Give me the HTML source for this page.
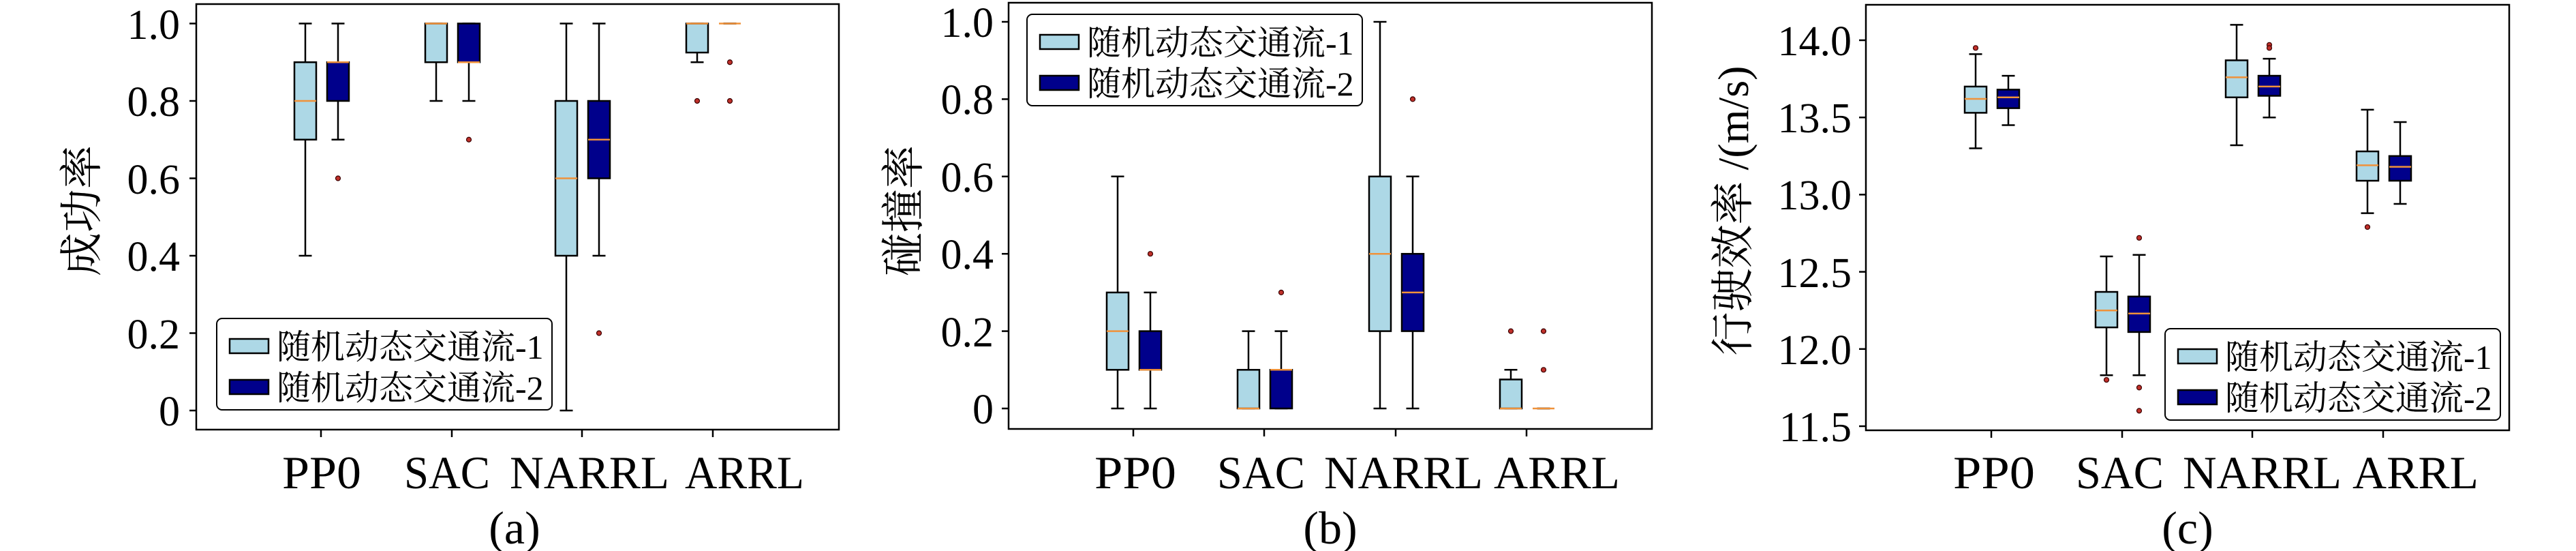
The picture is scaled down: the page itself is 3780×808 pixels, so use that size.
<!DOCTYPE html>
<html><head><meta charset="utf-8"><style>
html,body{margin:0;padding:0;background:#fff;}
svg{display:block;}
text{font-family:"Liberation Serif","Noto Serif CJK SC","Noto Sans CJK SC",serif;fill:#000;}
.tk{font-size:62px;}
.xl{font-size:68px;}
.yl{font-size:64px;}
.lg{font-size:50px;}
</style></head><body>
<svg id="s" width="3780" height="808" viewBox="0 0 3780 808" xmlns="http://www.w3.org/2000/svg">
<g id="shapes"></g>
<!-- Panel a -->
<rect x="288" y="6" width="943" height="624" fill="none" stroke="#000" stroke-width="2.5"/>
<g class="tk" text-anchor="end">
<text x="264" y="57">1.0</text><text x="264" y="170">0.8</text><text x="264" y="284">0.6</text>
<text x="264" y="397">0.4</text><text x="264" y="511">0.2</text><text x="264" y="624">0</text></g>
<g class="xl">
<text x="414" y="716" textLength="116" lengthAdjust="spacingAndGlyphs">PP0</text>
<text x="593" y="716" textLength="126" lengthAdjust="spacingAndGlyphs">SAC</text>
<text x="748" y="716" textLength="234" lengthAdjust="spacingAndGlyphs">NARRL</text>
<text x="1005" y="716" textLength="175" lengthAdjust="spacingAndGlyphs">ARRL</text></g>
<text class="xl" x="755" y="797" text-anchor="middle">(a)</text>
<text class="yl" transform="translate(142,309) rotate(-90)" text-anchor="middle">成功率</text>
<!-- Panel b -->
<rect x="1480" y="4" width="944" height="625" fill="none" stroke="#000" stroke-width="2.5"/>
<g class="tk" text-anchor="end">
<text x="1458" y="54">1.0</text><text x="1458" y="167">0.8</text><text x="1458" y="281">0.6</text>
<text x="1458" y="394">0.4</text><text x="1458" y="508">0.2</text><text x="1458" y="621">0</text></g>
<g class="xl">
<text x="1606" y="716" textLength="120" lengthAdjust="spacingAndGlyphs">PP0</text>
<text x="1786" y="716" textLength="129" lengthAdjust="spacingAndGlyphs">SAC</text>
<text x="1943" y="716" textLength="233" lengthAdjust="spacingAndGlyphs">NARRL</text>
<text x="2192" y="716" textLength="185" lengthAdjust="spacingAndGlyphs">ARRL</text></g>
<text class="xl" x="1952" y="797" text-anchor="middle">(b)</text>
<text class="yl" transform="translate(1348,309) rotate(-90)" text-anchor="middle">碰撞率</text>
<!-- Panel c -->
<rect x="2738" y="7" width="944" height="624" fill="none" stroke="#000" stroke-width="2.5"/>
<g class="tk" text-anchor="end">
<text x="2717" y="81">14.0</text><text x="2717" y="194">13.5</text><text x="2717" y="307">13.0</text>
<text x="2717" y="421">12.5</text><text x="2717" y="534">12.0</text><text x="2717" y="647">11.5</text></g>
<g class="xl">
<text x="2866" y="716" textLength="120" lengthAdjust="spacingAndGlyphs">PP0</text>
<text x="3046" y="716" textLength="129" lengthAdjust="spacingAndGlyphs">SAC</text>
<text x="3203" y="716" textLength="233" lengthAdjust="spacingAndGlyphs">NARRL</text>
<text x="3452" y="716" textLength="185" lengthAdjust="spacingAndGlyphs">ARRL</text></g>
<text class="xl" x="3210" y="797" text-anchor="middle">(c)</text>
<text class="yl" transform="translate(2565,309) rotate(-90)" text-anchor="middle">行驶效率 /(m/s)</text>
<!-- Legends -->
<g>
<rect x="318" y="467" width="492" height="134" rx="8" fill="#fff" stroke="#000" stroke-width="2"/>
<rect x="337" y="497" width="57" height="21" fill="#add8e6" stroke="#000" stroke-width="2.5"/>
<rect x="337" y="557" width="57" height="21" fill="#00008b" stroke="#000" stroke-width="2.5"/>
<text class="lg" x="406" y="526">随机动态交通流-1</text>
<text class="lg" x="406" y="586">随机动态交通流-2</text>
</g>
<g>
<rect x="1507" y="21" width="492" height="134" rx="8" fill="#fff" stroke="#000" stroke-width="2"/>
<rect x="1526" y="51" width="57" height="21" fill="#add8e6" stroke="#000" stroke-width="2.5"/>
<rect x="1526" y="111" width="57" height="21" fill="#00008b" stroke="#000" stroke-width="2.5"/>
<text class="lg" x="1595" y="80">随机动态交通流-1</text>
<text class="lg" x="1595" y="140">随机动态交通流-2</text>
</g>
<g>
<rect x="3177" y="482" width="492" height="134" rx="8" fill="#fff" stroke="#000" stroke-width="2"/>
<rect x="3196" y="512" width="57" height="21" fill="#add8e6" stroke="#000" stroke-width="2.5"/>
<rect x="3196" y="572" width="57" height="21" fill="#00008b" stroke="#000" stroke-width="2.5"/>
<text class="lg" x="3265" y="541">随机动态交通流-1</text>
<text class="lg" x="3265" y="601">随机动态交通流-2</text>
</g>
</svg>
<script>
(function(){
var NS="http://www.w3.org/2000/svg",g=document.getElementById("shapes");
function el(t,a){var e=document.createElementNS(NS,t);for(var k in a)e.setAttribute(k,a[k]);g.appendChild(e);}
var panels=[
 {ticks:[471,663,854,1046],y:function(v){return 602-v*567.5},yt:[0,0.2,0.4,0.6,0.8,1.0],ax:288,bot:630,
  d:[[0.4,0.7,0.8,0.9,1.0,[]],[0.7,0.8,0.9,0.9,1.0,[0.6]],[0.8,0.9,1.0,1.0,1.0,[]],[0.8,0.9,0.9,1.0,1.0,[0.7]],
     [0,0.4,0.6,0.8,1.0,[]],[0.4,0.6,0.7,0.8,1.0,[0.2]],[0.9,0.925,1.0,1.0,1.0,[0.8]],[1,1,1,1,1,[0.9,0.8]]]},
 {ticks:[1663,1855,2048,2240],y:function(v){return 599-v*567},yt:[0,0.2,0.4,0.6,0.8,1.0],ax:1480,bot:629,
  d:[[0,0.1,0.2,0.3,0.6,[]],[0,0.1,0.1,0.2,0.3,[0.4]],[0,0,0,0.1,0.2,[]],[0,0,0.1,0.1,0.2,[0.3]],
     [0,0.2,0.4,0.6,1.0,[]],[0,0.2,0.3,0.4,0.6,[0.8]],[0,0,0,0.075,0.1,[0.2]],[0,0,0,0,0,[0.2,0.1]]]},
 {ticks:[2922,3114,3305,3497],y:function(v){return 59+(14-v)*226.4},yt:[11.5,12,12.5,13,13.5,14],ax:2738,bot:631,
  d:[[13.30,13.53,13.62,13.70,13.91,[13.95]],[13.45,13.56,13.63,13.68,13.77,[]],
     [11.83,12.14,12.25,12.37,12.60,[11.80]],[11.83,12.11,12.23,12.34,12.61,[12.72,11.75,11.60]],
     [13.32,13.63,13.76,13.87,14.10,[]],[13.50,13.64,13.70,13.77,13.88,[13.97,13.95]],
     [12.88,13.09,13.19,13.28,13.55,[12.79]],[12.94,13.09,13.18,13.25,13.47,[]]]}
];
panels.forEach(function(p){
 p.yt.forEach(function(v){var yy=p.y(v);el("line",{x1:p.ax-10,x2:p.ax,y1:yy,y2:yy,stroke:"#000","stroke-width":2.5});});
 p.ticks.forEach(function(t){el("line",{x1:t,x2:t,y1:p.bot,y2:p.bot+11,stroke:"#000","stroke-width":2.5});});
 p.d.forEach(function(b,i){
  var c=p.ticks[i>>1]+(i%2?25:-23),col=i%2?"#00008b":"#add8e6",Y=p.y;
  var lw=2.5,hw=16,cw=9.5;
  el("line",{x1:c,x2:c,y1:Y(b[0]),y2:Y(b[1]),stroke:"#000","stroke-width":lw});
  el("line",{x1:c,x2:c,y1:Y(b[3]),y2:Y(b[4]),stroke:"#000","stroke-width":lw});
  el("line",{x1:c-cw,x2:c+cw,y1:Y(b[0]),y2:Y(b[0]),stroke:"#000","stroke-width":lw});
  el("line",{x1:c-cw,x2:c+cw,y1:Y(b[4]),y2:Y(b[4]),stroke:"#000","stroke-width":lw});
  if(b[3]>b[1]) el("rect",{x:c-hw,y:Y(b[3]),width:2*hw,height:Y(b[1])-Y(b[3]),fill:col,stroke:"#000","stroke-width":lw});
  el("line",{x1:c-hw,x2:c+hw,y1:Y(b[2]),y2:Y(b[2]),stroke:"#f0923a","stroke-width":2.5});
  b[5].forEach(function(o){el("circle",{cx:c,cy:Y(o),r:3.5,fill:"#c0302a",stroke:"#3a0000","stroke-width":1.2});});
 });
});
})();
</script>
</body></html>
